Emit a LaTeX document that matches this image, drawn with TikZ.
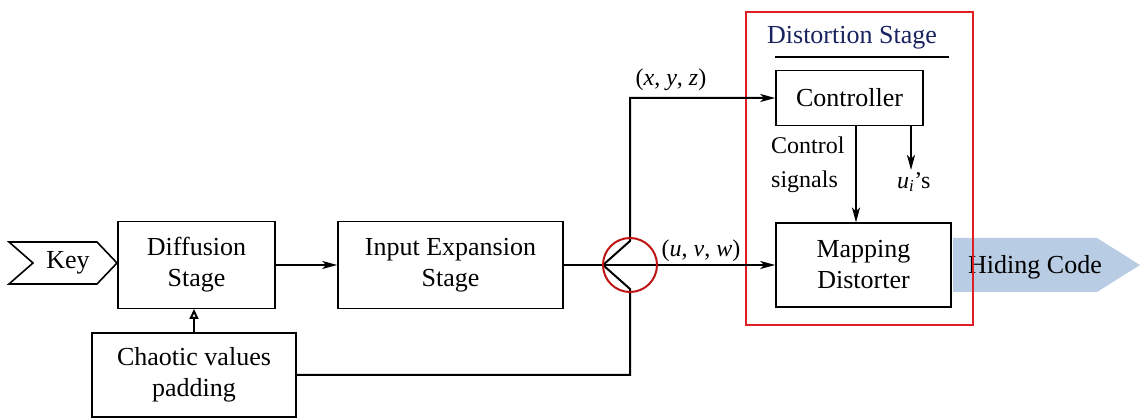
\documentclass[tikz,border=0pt]{standalone}
\usepackage{fontspec}
\setmainfont{Liberation Serif}
\usetikzlibrary{arrows.meta}
\definecolor{hidblue}{RGB}{184,204,228}
\definecolor{navytitle}{RGB}{25,35,95}
\definecolor{framered}{RGB}{225,30,35}
\definecolor{circred}{RGB}{190,20,20}
\begin{document}
\begin{tikzpicture}[x=1pt,y=-1pt,
  every node/.style={font=\fontsize{26}{31}\selectfont, inner sep=0pt},
  blk/.style={draw, line width=1.6pt, align=center},
  conn/.style={line width=2pt},
  arr/.style={conn, -{Stealth[length=15pt,width=8pt,inset=4pt]}},
  lbl/.style={font=\fontsize{24}{34}\selectfont}]
\useasboundingbox (0,0) rectangle (1146,419);
% blocks
\node[blk, minimum width=157pt, minimum height=87pt] (diff) at (196.5,265) {Diffusion\\Stage};
\node[blk, minimum width=225pt, minimum height=87pt] (inexp) at (450.5,265) {Input Expansion\\Stage};
\node[blk, minimum width=204pt, minimum height=84pt] (chaos) at (194,375) {Chaotic values\\padding};
\node[blk, minimum width=147pt, minimum height=55pt] (ctrl) at (849.5,98) {Controller};
\node[blk, minimum width=175pt, minimum height=84pt] (map) at (863.5,265) {Mapping\\Distorter};
% key chevron
\draw[line width=1.6pt] (9,242) -- (97,242) -- (117,263) -- (97,284) -- (9,284) -- (33,263) -- cycle;
\node (key) at (68,263) {Key};
% hiding code
\fill[hidblue] (953,238) -- (1097,238) -- (1140,265) -- (1097,292) -- (953,292) -- cycle;
\node (hide) at (1035,267) {Hiding Code};
% distortion frame
\draw[framered, line width=1.8pt] (746,12) rectangle (973,325);
\node[text=navytitle] (title) at (852,38) {Distortion Stage};
\draw[line width=2pt] (775,57) -- (949,57);
% splitter
\coordinate (cl) at (603,265);
\coordinate (cu) at (630,241);
\coordinate (cd) at (630,289);
\coordinate (cc) at (630,265);
\draw[conn] (inexp.east) -- (cl);
\draw[arr] (cl) -- (map.west);
\draw[arr] (cl) -- (cu) -- (cu |- ctrl.west) -- (ctrl.west);
\draw[conn] (cl) -- (cd) -- (cd |- chaos.east) -- (chaos.east);
\draw[circred, line width=2pt] (cc) circle (27pt);
\node[lbl] (xyz) at (671,80) {(\textit{x}, \textit{y}, \textit{z})};
\node[lbl] (uvw) at (701,251) {(\textit{u}, \textit{v}, \textit{w})};
% diffusion connections
\draw[arr] (diff.east) -- (inexp.west);
\draw[line width=2pt, -{Triangle[open,length=10pt,width=9pt]}] (chaos.north -| 194,0) -- (194,309);
% distortion internals
\draw[arr] (856,125.5) -- (856,222.5);
\coordinate (uend) at (911,170);
\draw[line width=2.6pt, -{Stealth[length=15pt,width=8pt,inset=4pt]}] (911,125.5) -- (uend);
\node[lbl, align=left, anchor=west] (cs) at (771,165) {Control\\signals};
\node[lbl, anchor=west] (ui) at (897,182) {\textit{u\textsubscript{i}}'s};
\end{tikzpicture}
\end{document}
